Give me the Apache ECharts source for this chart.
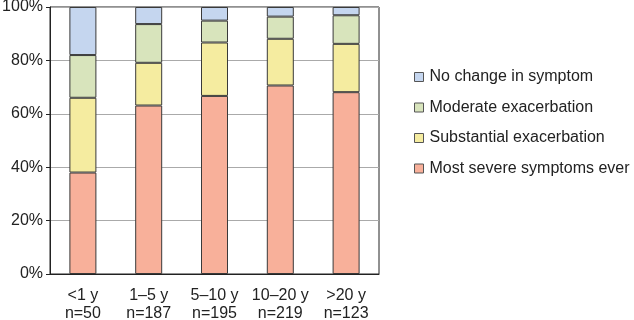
<!DOCTYPE html>
<html>
<head>
<meta charset="utf-8">
<script src="https://cdn.jsdelivr.net/npm/echarts@6/dist/echarts.min.js"></script>
<style>
  html, body { margin: 0; padding: 0; background: #fff; }
  #main { width: 634px; height: 320px; }
</style>
</head>
<body>
<div id="main"></div>
<script>
// categories (duration) and sample sizes
var categories = ["<1 y", "1–5 y", "5–10 y", "10–20 y", ">20 y"];
var sampleSizes = [50, 187, 195, 219, 123];

// percent of patients per category, bottom to top
var mostSevere = [38.0, 63.1, 66.7, 70.6, 68.1];
var substantial = [28.0, 16.0, 20.0, 17.5, 18.1];
var moderate = [16.0, 14.5, 8.2, 8.3, 10.7];
var noChange = [18.0, 6.4, 5.1, 3.6, 3.1];

var yTicks = [0, 20, 40, 60, 80, 100];

var names = [
  "Most severe symptoms ever",
  "Substantial exacerbation",
  "Moderate exacerbation",
  "No change in symptom"
];
var colors = ["#f8b09a", "#f5eca0", "#d8e4bc", "#c5d6ef"];
var values = [mostSevere, substantial, moderate, noChange];

var myChart = echarts.init(document.getElementById("main"));

var series = values.map(function (d, i) {
  return {
    name: names[i],
    type: "bar",
    stack: "total",
    barWidth: 27,
    data: d,
    itemStyle: {
      color: colors[i],
      borderColor: "#3a3a3a",
      borderWidth: 1
    }
  };
});

var option = {
  animation: false,
  textStyle: { fontFamily: "Liberation Sans, Arial, sans-serif" },
  grid: {
    left: 50,
    right: 255,
    top: 7,
    bottom: 46,
    outerBoundsMode: "none",
    show: true,
    borderColor: "#222",
    borderWidth: 1
  },
  legend: {
    orient: "vertical",
    left: 409,
    top: 64,
    itemGap: 14.5,
    itemWidth: 9,
    itemHeight: 9,
    icon: "rect",
    data: names.slice().reverse(),
    textStyle: { fontSize: 16, color: "#222", padding: [0, 0, 0, 1] },
    itemStyle: { borderColor: "#555", borderWidth: 1 }
  },
  xAxis: {
    type: "category",
    data: categories,
    axisTick: { show: false },
    axisLine: { lineStyle: { color: "#222" } },
    axisLabel: {
      interval: 0,
      margin: 13,
      fontSize: 16,
      lineHeight: 18,
      color: "#222",
      formatter: function (v, idx) {
        return v + "\nn=" + sampleSizes[idx];
      }
    }
  },
  yAxis: {
    type: "value",
    min: yTicks[0],
    max: yTicks[yTicks.length - 1],
    interval: 20,
    axisLine: { show: true, lineStyle: { color: "#222" } },
    axisTick: { show: true, length: 4, lineStyle: { color: "#222" } },
    axisLabel: {
      fontSize: 16,
      color: "#222",
      margin: 7,
      formatter: "{value}%"
    },
    splitLine: { lineStyle: { color: "#aaa" } }
  },
  series: series
};

myChart.setOption(option);
</script>
</body>
</html>
